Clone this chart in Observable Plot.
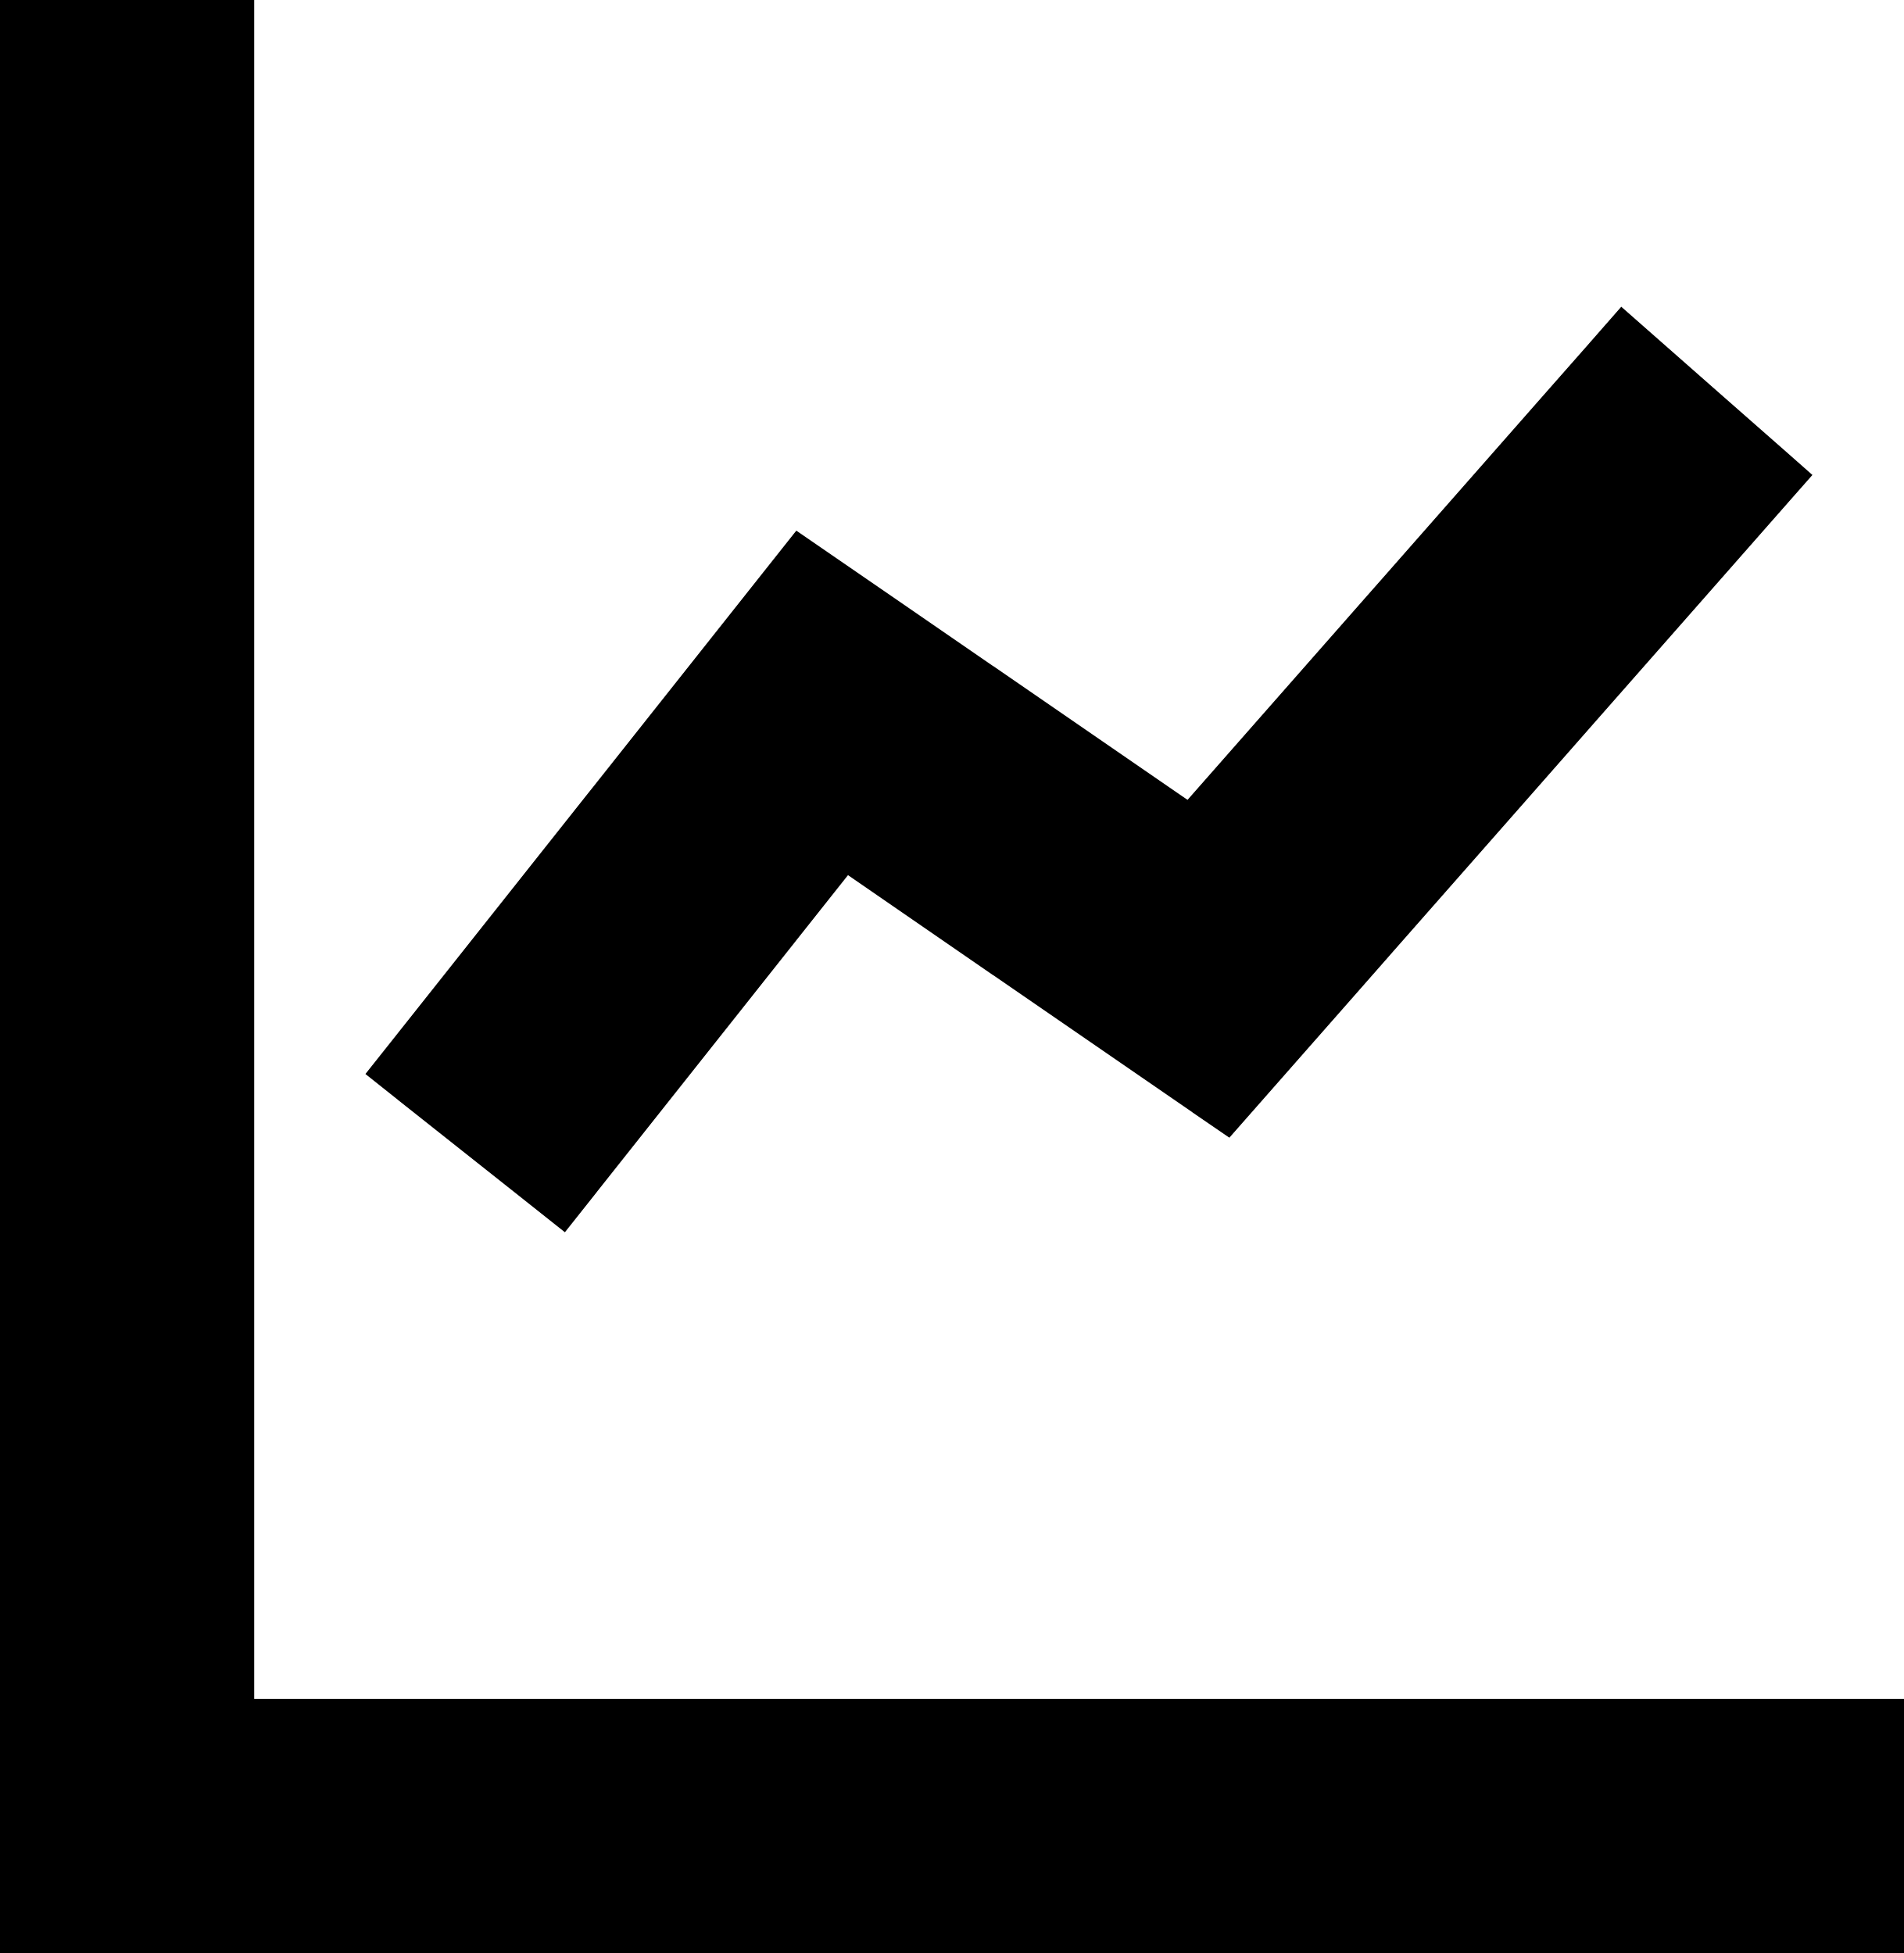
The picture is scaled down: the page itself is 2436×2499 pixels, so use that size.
<!DOCTYPE html>
<html>
<head>
<meta charset="utf-8">
<style>html,body{margin:0;padding:0;background:#fff;overflow:hidden}svg{display:block}</style>
<script src="https://cdn.jsdelivr.net/npm/d3@7"></script>
<script src="https://cdn.jsdelivr.net/npm/@observablehq/plot@0.6"></script>
</head>
<body>
<div id="chart"></div>
<script>
const seriesX = [169, 455.5, 765.5, 1173.5];
const seriesY = [438.5, 800, 586.5, 1050.5];
const xDomain = [-204, 1324];
const yDomain = [-204, 1364];
const points = seriesX.map((x, i) => ({x, y: seriesY[i]}));
const axisBars = [
  {x1: xDomain[0], x2: 0, y1: yDomain[0], y2: yDomain[1]},
  {x1: xDomain[0], x2: xDomain[1], y1: yDomain[0], y2: 0}
];
const chart = Plot.plot({
  width: 2436,
  height: 2499,
  margin: 0,
  style: {background: "#fff"},
  x: {domain: xDomain, axis: null},
  y: {domain: yDomain, axis: null},
  marks: [
    Plot.rect(axisBars, {x1: "x1", x2: "x2", y1: "y1", y2: "y2", fill: "#000"}),
    Plot.line(points, {x: "x", y: "y", stroke: "#000", strokeWidth: 325.7, strokeLinejoin: "miter", strokeLinecap: "butt", strokeMiterlimit: 10})
  ]
});
document.getElementById("chart").append(chart);
</script>
</body>
</html>
